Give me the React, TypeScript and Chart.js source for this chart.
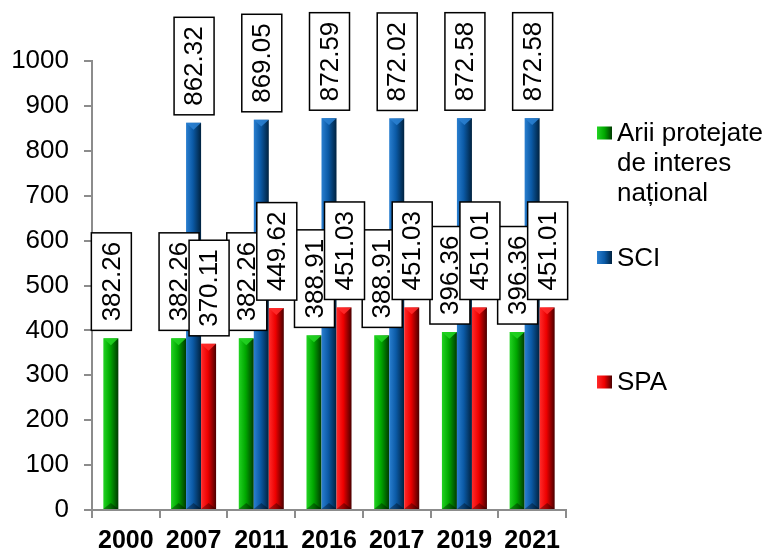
import React, { useEffect, useRef } from "react";
import { Chart, registerables } from "chart.js";

Chart.register(...registerables);

const categories = ["2000", "2007", "2011", "2016", "2017", "2019", "2021"];
const ariiProtejate = [382.26, 382.26, 382.26, 388.91, 388.91, 396.36, 396.36];
const sci = [null, 862.32, 869.05, 872.59, 872.02, 872.58, 872.58];
const spa = [null, 370.11, 449.62, 451.03, 451.03, 451.01, 451.01];
const seriesLabels = ["Arii protejate de interes național", "SCI", "SPA"];
const legendLines = [["Arii protejate", "de interes", "național"], ["SCI"], ["SPA"]];
const yTicks = [0, 100, 200, 300, 400, 500, 600, 700, 800, 900, 1000];

const FONT = "'Liberation Sans', Arial, sans-serif";

const palette = [
  { light: "#22d322", base: "#00a800", dark: "#003a00" },
  { light: "#2a7fd0", base: "#0b5aa6", dark: "#00223f" },
  { light: "#ff2a2a", base: "#ee0000", dark: "#4a0000" },
];

const barPainter = {
  id: "barPainter",
  afterDatasetsDraw(chart: any) {
    const ctx = chart.ctx;
    chart.data.datasets.forEach((ds: any, di: number) => {
      const meta = chart.getDatasetMeta(di);
      const col = palette[di];
      meta.data.forEach((el: any, i: number) => {
        const v = ds.data[i];
        if (v === null || v === undefined) return;
        const { x, y, base, width } = el.getProps(["x", "y", "base", "width"], true);
        const l = x - width / 2;
        const r = x + width / 2;
        const g = ctx.createLinearGradient(l, 0, r, 0);
        g.addColorStop(0, col.light);
        g.addColorStop(0.45, col.base);
        g.addColorStop(1, col.dark);
        ctx.save();
        ctx.fillStyle = g;
        ctx.fillRect(l, y, width, base - y);
        ctx.fillStyle = col.light;
        ctx.globalAlpha = 0.9;
        ctx.beginPath();
        ctx.moveTo(l, y);
        ctx.lineTo(r, y);
        ctx.lineTo(x, y + width / 2.2);
        ctx.closePath();
        ctx.fill();
        ctx.globalAlpha = 0.35;
        ctx.fillStyle = "#000";
        ctx.beginPath();
        ctx.moveTo(l, base);
        ctx.lineTo(r, base);
        ctx.lineTo(x, base - width / 2.5);
        ctx.closePath();
        ctx.fill();
        ctx.restore();
      });
    });
    ctx.save();
    ctx.font = `26px ${FONT}`;
    chart.data.datasets.forEach((ds: any, di: number) => {
      const meta = chart.getDatasetMeta(di);
      meta.data.forEach((el: any, i: number) => {
        const v = ds.data[i];
        if (v === null || v === undefined) return;
        const { x, y } = el.getProps(["x", "y"], true);
        const text = v.toFixed(2);
        const tw = ctx.measureText(text).width;
        const bw = 40;
        const bh = tw + 18;
        const bottom = y - 8;
        const left = x - bw / 2 + 0.5;
        ctx.fillStyle = "#fff";
        ctx.fillRect(left, bottom - bh, bw, bh);
        ctx.strokeStyle = "#000";
        ctx.lineWidth = 1.5;
        ctx.strokeRect(left, bottom - bh, bw, bh);
        ctx.save();
        ctx.translate(left + bw / 2, bottom - bh / 2);
        ctx.rotate(-Math.PI / 2);
        ctx.fillStyle = "#000";
        ctx.textAlign = "center";
        ctx.textBaseline = "middle";
        ctx.fillText(text, 0, 1);
        ctx.restore();
      });
    });
    ctx.restore();
  },
};

const customLegend = {
  id: "customLegend",
  afterDraw(chart: any) {
    const ctx = chart.ctx;
    const area = chart.chartArea;
    const mx = area.right + 31;
    const tx = mx + 20;
    const firstY = area.top + 72;
    const step = 124.5;
    const lineH = 30;
    ctx.save();
    ctx.font = `26px ${FONT}`;
    ctx.textBaseline = "middle";
    ctx.textAlign = "left";
    legendLines.forEach((lines, i) => {
      const cy = firstY + i * step;
      const col = palette[i];
      const g = ctx.createLinearGradient(mx, 0, mx + 15, 0);
      g.addColorStop(0, col.light);
      g.addColorStop(0.5, col.base);
      g.addColorStop(1, col.dark);
      ctx.fillStyle = g;
      ctx.fillRect(mx, cy - 6.5, 15, 13);
      ctx.fillStyle = "#000";
      lines.forEach((ln, k) => ctx.fillText(ln, tx, cy + k * lineH + 1));
    });
    ctx.restore();
  },
};

export default function App() {
  const ref = useRef<HTMLCanvasElement | null>(null);
  useEffect(() => {
    if (!ref.current) return;
    const chart = new Chart(ref.current, {
      type: "bar",
      data: {
        labels: categories,
        datasets: [
          { label: seriesLabels[0], data: ariiProtejate, backgroundColor: "rgba(0,0,0,0)" },
          { label: seriesLabels[1], data: sci as any, backgroundColor: "rgba(0,0,0,0)" },
          { label: seriesLabels[2], data: spa as any, backgroundColor: "rgba(0,0,0,0)" },
        ],
      },
      options: {
        responsive: false,
        animation: false,
        maintainAspectRatio: false,
        layout: { padding: { left: 0, top: 61, right: 203, bottom: 0 } },
        datasets: { bar: { categoryPercentage: 0.665, barPercentage: 1, skipNull: false } },
        plugins: { legend: { display: false }, tooltip: { enabled: false } },
        scales: {
          x: {
            grid: { display: true, offset: true, drawOnChartArea: false, drawTicks: true, tickLength: 8, color: "#8c8c8c", lineWidth: 2 },
            border: { display: true, color: "#8c8c8c", width: 2 },
            ticks: { color: "#000", font: { family: FONT, size: 25, weight: "bold" }, padding: 8 },
            afterFit: (s: any) => { s.height = 42; },
          },
          y: {
            min: 0,
            max: 1000,
            afterBuildTicks: (s: any) => { s.ticks = yTicks.map((v) => ({ value: v })); },
            grid: { display: true, drawOnChartArea: false, drawTicks: true, tickLength: 8, color: "#8c8c8c", lineWidth: 2 },
            border: { display: true, color: "#8c8c8c", width: 2 },
            ticks: { color: "#000", font: { family: FONT, size: 26 }, padding: 15, callback: (v: any) => String(v) },
            afterFit: (s: any) => { s.width = 92; },
          },
        },
      },
      plugins: [barPainter, customLegend],
    });
    return () => chart.destroy();
  }, []);
  return (
    <div style={{ position: "fixed", left: 0, top: 0, width: 769, height: 552, background: "#fff" }}>
      <canvas ref={ref} width={769} height={552} style={{ width: 769, height: 552 }} />
    </div>
  );
}
